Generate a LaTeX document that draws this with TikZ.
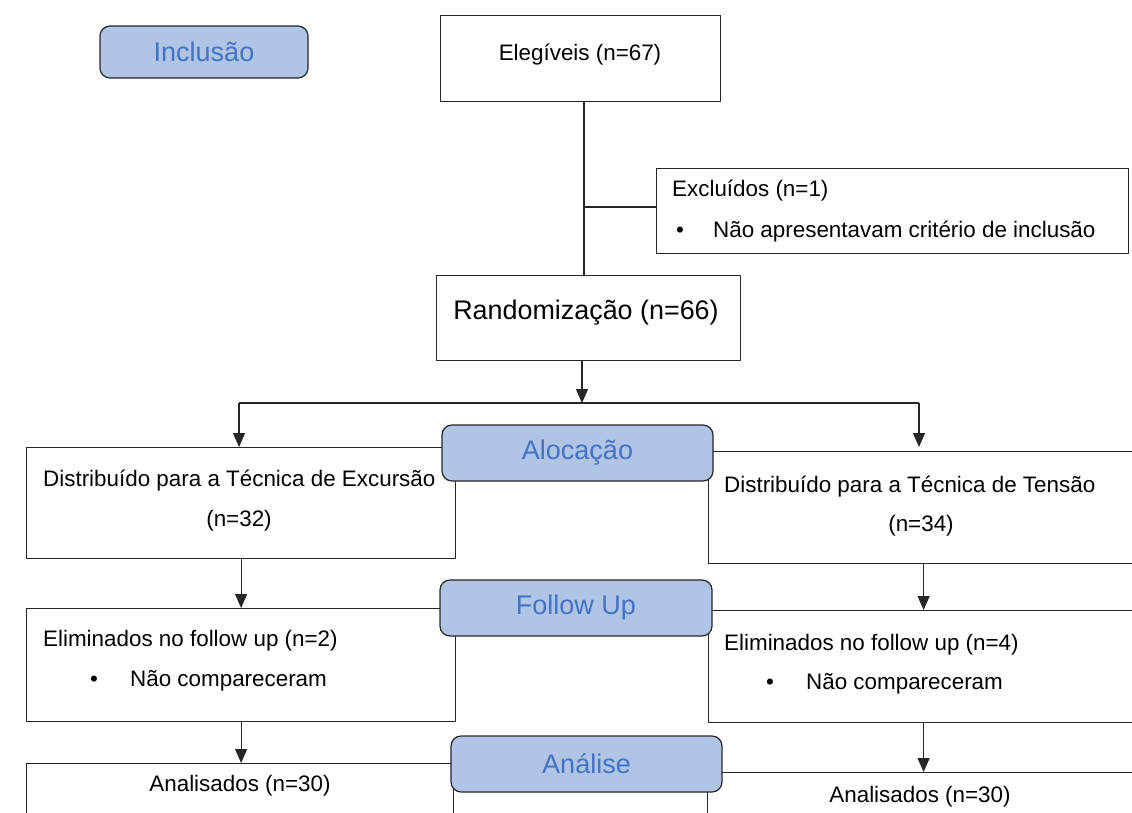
\documentclass[tikz,border=0pt]{standalone}
\usepackage{fontspec}
\setmainfont{Liberation Sans}
\usetikzlibrary{arrows.meta}

\definecolor{stagefill}{RGB}{176,196,230}
\definecolor{stagetext}{RGB}{68,114,196}

\begin{document}
\begin{tikzpicture}[x=1pt,y=-1pt,line join=round,
  box/.style={draw=black!85,line width=1.2pt,rectangle,inner sep=0pt,anchor=north west},
  stage/.style={draw=black!85,line width=1.2pt,fill=stagefill,rounded corners=10pt,
    inner sep=0pt,text=stagetext,font=\fontsize{27}{30}\selectfont},
  txt/.style={font=\fontsize{22.4}{26}\selectfont,inner sep=0pt},
  link/.style={line width=1.2pt,draw=black!85},
  arr/.style={link,-{Triangle[length=14pt,width=12pt]}}]

  \useasboundingbox (0,0) rectangle (1132,812);

  % ---- boxes (page pixels, y down) ----
  \node[box,minimum width=280pt,minimum height=86pt]  (eleg) at (440,15) {};
  \node[box,minimum width=472pt,minimum height=85pt]  (excl) at (656,168) {};
  \node[box,minimum width=304pt,minimum height=85pt]  (rand) at (436,275) {};
  % left column (Excursao)
  \node[box,minimum width=429pt,minimum height=111pt] (exc1) at (26,447) {};
  \node[box,minimum width=429pt,minimum height=113pt] (exc2) at (26,608) {};
  \node[box,minimum width=427pt,minimum height=60pt]  (exc3) at (26,763) {};
  % right column (Tensao)
  \node[box,minimum width=430pt,minimum height=112pt] (ten1) at (708,451) {};
  \node[box,minimum width=430pt,minimum height=112pt] (ten2) at (708,610) {};
  \node[box,minimum width=431pt,minimum height=50pt]  (ten3) at (707,772) {};

  % ---- stage labels ----
  \node[stage,minimum width=208pt,minimum height=52pt] (incl) at (204,52)    {Inclusão};
  \node[stage,minimum width=271pt,minimum height=56pt] (aloc) at (577.5,453) {Alocação};
  \node[stage,minimum width=272pt,minimum height=56pt] (foll) at (576,608)   {Follow Up};
  \node[stage,minimum width=271pt,minimum height=56pt] (anal) at (586.5,764) {Análise};

  % ---- texts ----
  \node[txt] (elegT) at (580,55) {Elegíveis (n=67)};
  \node[txt,anchor=west] (exclT) at (672,191) {Excluídos (n=1)};
  \node[txt] (exclB) at (680,232) {•};
  \node[txt,anchor=west] (exclR) at (713,232) {Não apresentavam critério de inclusão};
  \node[txt,font=\fontsize{26.9}{30}\selectfont] (randT) at (586,313) {Randomização (n=66)};

  \node[txt,anchor=west] (exc1T) at (43,481) {Distribuído para a Técnica de Excursão};
  \node[txt] (exc1N) at (239,521) {(n=32)};
  \node[txt,anchor=west] (ten1T) at (724,487) {Distribuído para a Técnica de Tensão};
  \node[txt] (ten1N) at (921,526) {(n=34)};

  \node[txt,anchor=west] (exc2T) at (43,641) {Eliminados no follow up (n=2)};
  \node[txt] (exc2B) at (94,681) {•};
  \node[txt,anchor=west] (exc2R) at (130,681) {Não compareceram};
  \node[txt,anchor=west] (ten2T) at (724,645) {Eliminados no follow up (n=4)};
  \node[txt] (ten2B) at (770,684) {•};
  \node[txt,anchor=west] (ten2R) at (806,684) {Não compareceram};

  \node[txt] (exc3T) at (240,786) {Analisados (n=30)};
  \node[txt] (ten3T) at (920,797) {Analisados (n=30)};

  % ---- connectors ----
  \coordinate (split) at (584,207);
  \draw[link] (split |- eleg.south) -- (split |- rand.north);
  \draw[link] (split) -- (split -| excl.west);

  \coordinate (fork)  at (582,403);
  \coordinate (forkL) at (239,403);
  \coordinate (forkR) at (919,403);
  \draw[arr] (fork |- rand.south) -- (fork);
  \draw[link] (forkL) -- (forkR);
  \draw[arr] (forkL) -- (forkL |- exc1.north);
  \draw[arr] (forkR) -- ([yshift=4pt]forkR |- ten1.north);

  \draw[arr] (exc1.south) -- (exc1.south |- exc2.north);
  \draw[arr] (ten1.south) -- (ten1.south |- ten2.north);
  \draw[arr] (exc2.south) -- (exc2.south |- exc3.north);
  \draw[arr] (ten2.south) -- (ten2.south |- ten3.north);
\end{tikzpicture}
\end{document}
